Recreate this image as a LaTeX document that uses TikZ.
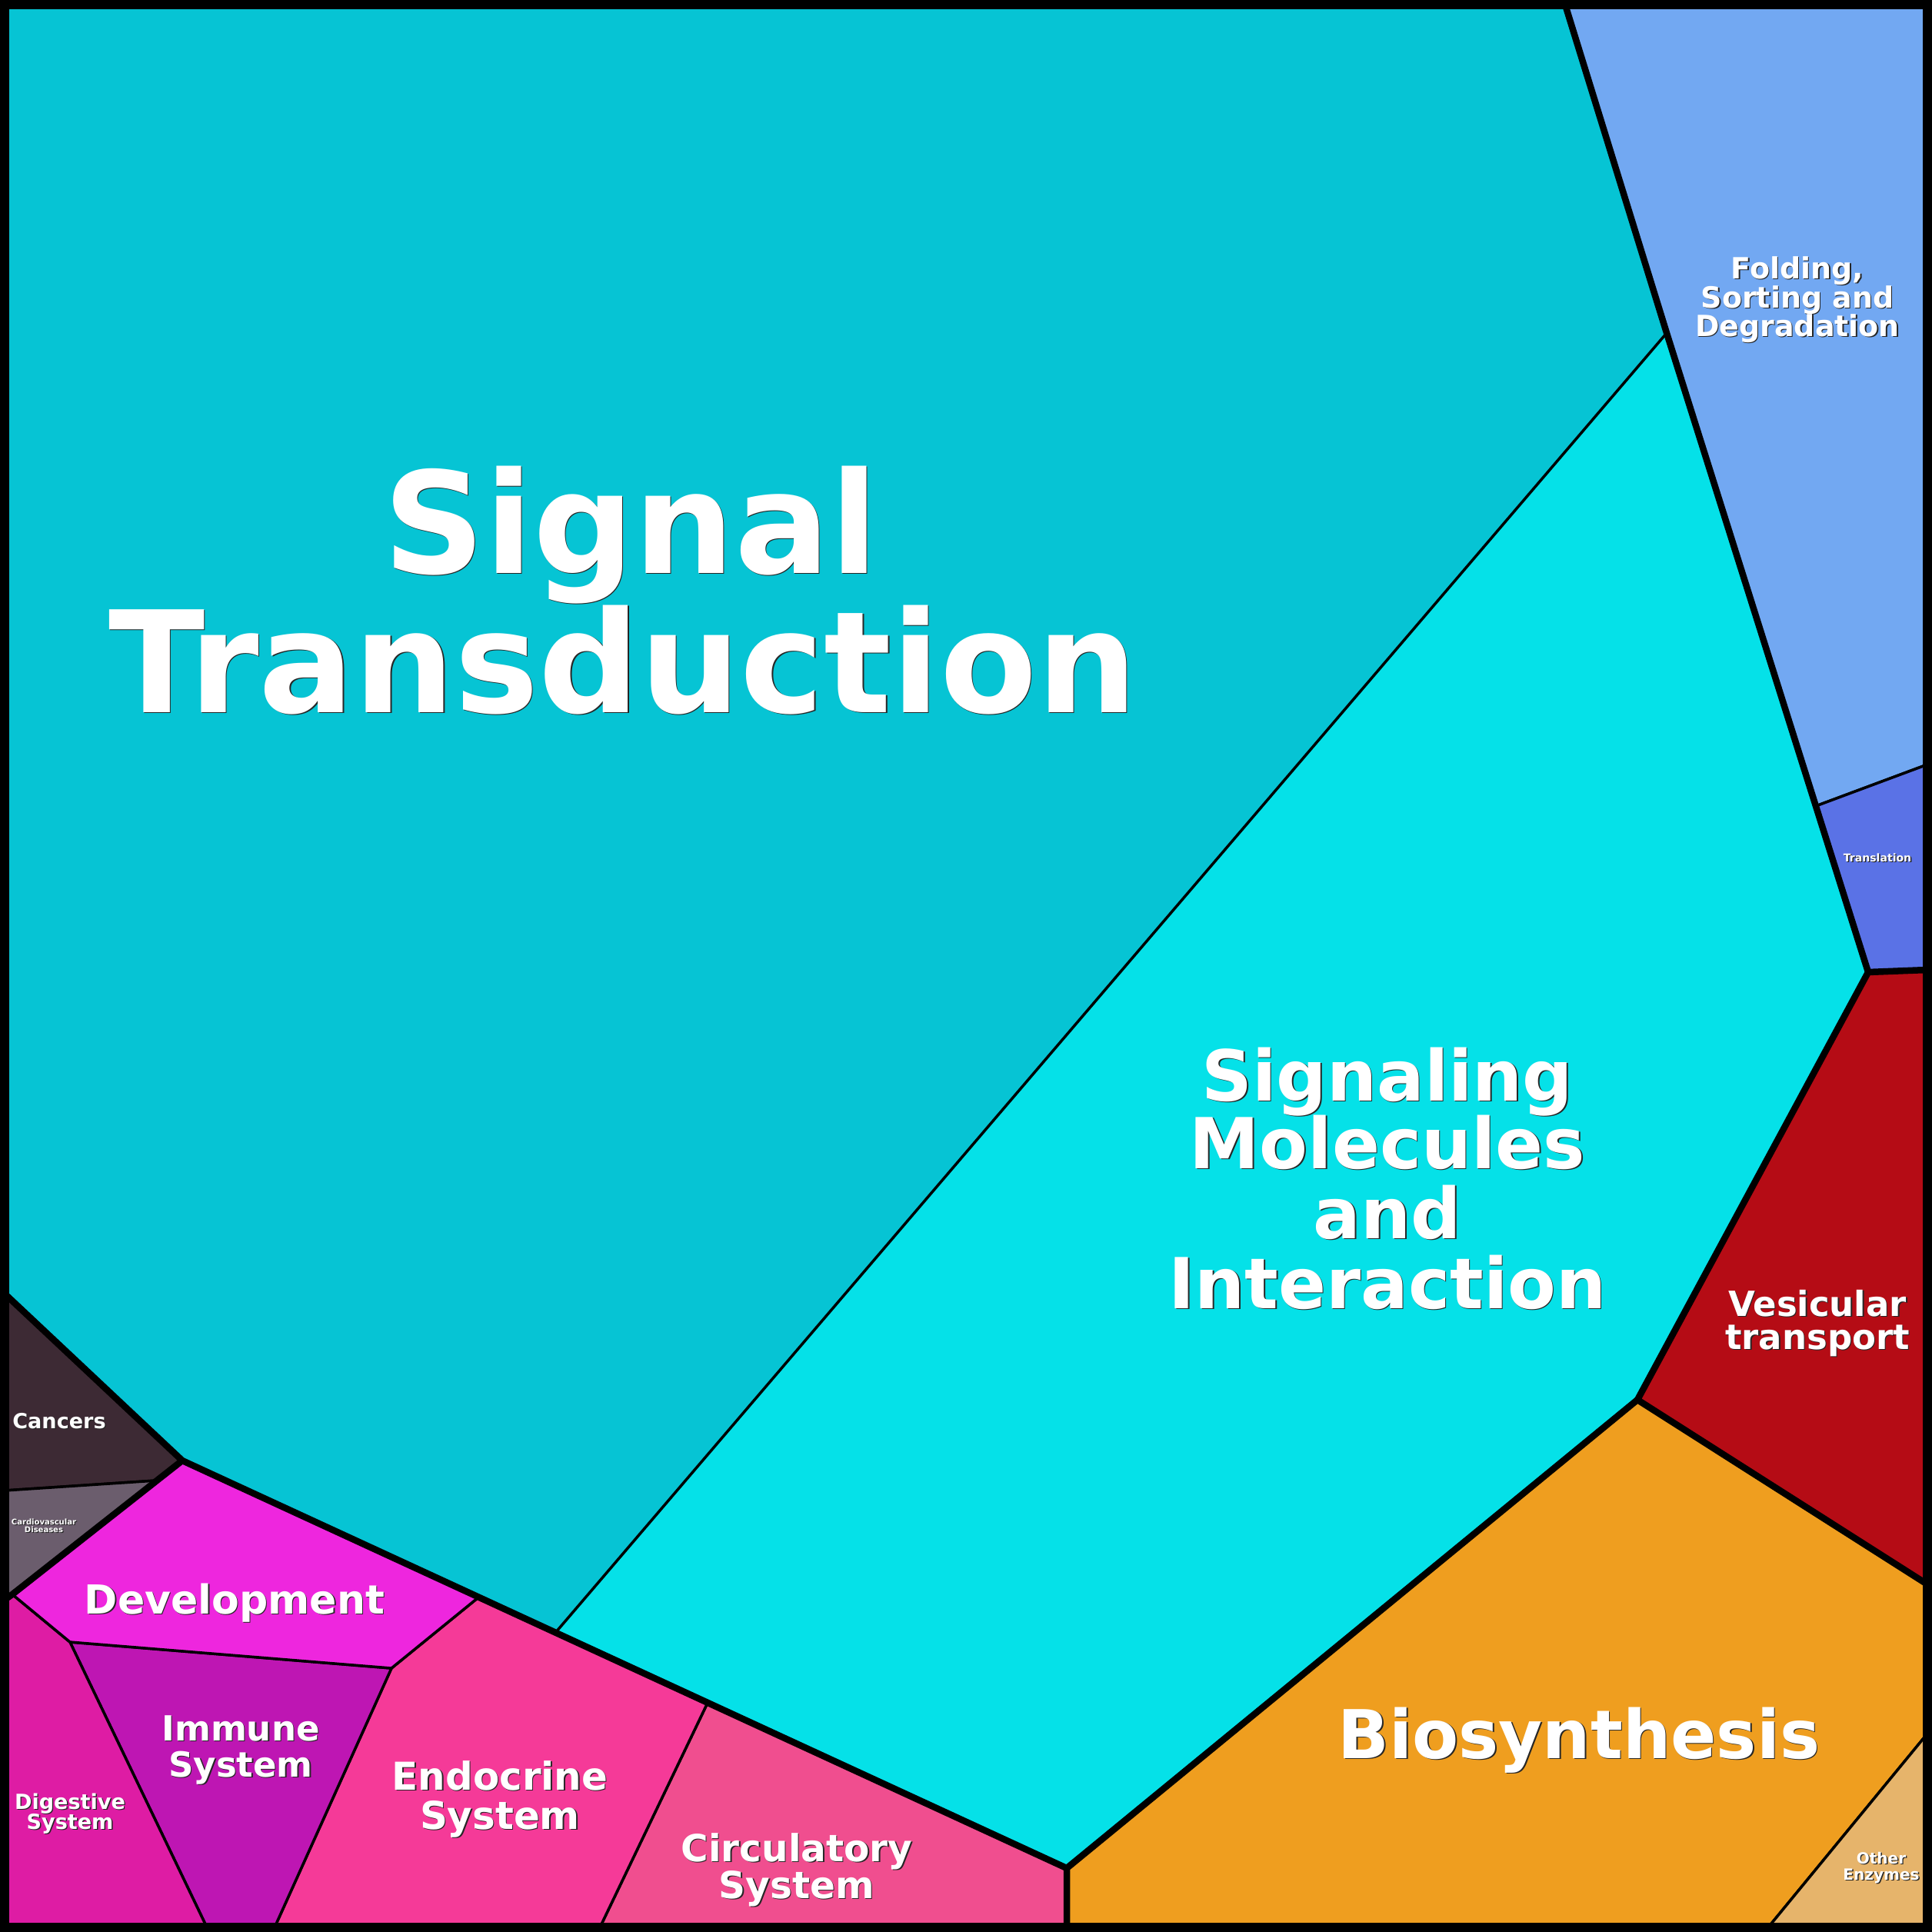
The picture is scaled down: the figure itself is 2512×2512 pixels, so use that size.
\documentclass[tikz,border=0pt]{standalone}
\usepackage{fontspec}
\setmainfont{DejaVu Sans}
\definecolor{stC}{HTML}{06C4D4}
\definecolor{smC}{HTML}{05E1E8}
\definecolor{foC}{HTML}{72A8F2}
\definecolor{trC}{HTML}{5A72E6}
\definecolor{veC}{HTML}{B50C15}
\definecolor{biC}{HTML}{EF9E1F}
\definecolor{oeC}{HTML}{E6B46B}
\definecolor{ciC}{HTML}{F04E8F}
\definecolor{enC}{HTML}{F53A98}
\definecolor{imC}{HTML}{BE16B3}
\definecolor{diC}{HTML}{DE1CA4}
\definecolor{deC}{HTML}{EE26DE}
\definecolor{caC}{HTML}{3D2A34}
\definecolor{cvC}{HTML}{6B5D6D}
\tikzset{
  cell/.style={draw=black, line width=0.035cm, line join=round},
  groupline/.style={draw=black, line width=0.085cm, line join=round},
  frameline/.style={draw=black, line width=0.12cm},
  lbl/.style={text=white, inner sep=0pt, anchor=base},
  shd/.style={text=black!85, inner sep=0pt, anchor=base, xshift=0.014cm, yshift=-0.014cm}
}
\newcommand{\lab}[4]{%
  \node[shd, font=\bfseries\fontsize{#3}{#3}\selectfont] at (#2) {#4};
  \node[lbl, font=\bfseries\fontsize{#3}{#3}\selectfont] (#1) at (#2) {#4};
}
\begin{document}
\begin{tikzpicture}[x=0.01cm, y=-0.01cm]
\useasboundingbox (0,0) rectangle (2512,2512);
% vertices
\coordinate (TL) at (6,6);
\coordinate (TR) at (2506,6);
\coordinate (BL) at (6,2506);
\coordinate (BR) at (2506,2506);
\coordinate (a) at (2035,6);
\coordinate (b) at (2167,433);
\coordinate (c) at (2361,1048);
\coordinate (d) at (2506,994);
\coordinate (e) at (2429,1264);
\coordinate (f) at (2506,1261);
\coordinate (g) at (2129,1820);
\coordinate (h) at (2506,2060);
\coordinate (i) at (2506,2254);
\coordinate (j) at (2299,2506);
\coordinate (k) at (1387,2429);
\coordinate (l) at (1387,2506);
\coordinate (m) at (722,2123);
\coordinate (n) at (920,2214);
\coordinate (o) at (780,2506);
\coordinate (p) at (622,2077);
\coordinate (q) at (509,2169);
\coordinate (r) at (357,2506);
\coordinate (s) at (91,2135);
\coordinate (t) at (269,2506);
\coordinate (u) at (16,2073);
\coordinate (u0) at (6,2080);
\coordinate (v) at (237,1899);
\coordinate (w) at (6,1682);
\coordinate (x1) at (203,1925);
\coordinate (x0) at (6,1938);
% cells
\fill[stC] (TL) -- (a) -- (b) -- (m) -- (v) -- (w) -- cycle;
\draw[cell, fill=smC] (b) -- (e) -- (g) -- (k) -- (m) -- cycle;
\draw[cell, fill=foC] (a) -- (TR) -- (d) -- (c) -- cycle;
\draw[cell, fill=trC] (c) -- (d) -- (f) -- (e) -- cycle;
\draw[cell, fill=veC] (e) -- (f) -- (h) -- (g) -- cycle;
\draw[cell, fill=biC] (g) -- (h) -- (i) -- (j) -- (l) -- (k) -- cycle;
\draw[cell, fill=oeC] (i) -- (BR) -- (j) -- cycle;
\draw[cell, fill=ciC] (n) -- (k) -- (l) -- (o) -- cycle;
\draw[cell, fill=enC] (p) -- (n) -- (o) -- (r) -- (q) -- cycle;
\draw[cell, fill=imC] (s) -- (q) -- (r) -- (t) -- cycle;
\draw[cell, fill=diC] (u0) -- (u) -- (s) -- (t) -- (BL) -- cycle;
\draw[cell, fill=deC] (u) -- (v) -- (p) -- (q) -- (s) -- cycle;
\draw[cell, fill=caC] (w) -- (v) -- (x1) -- (x0) -- cycle;
\draw[cell, fill=cvC] (x0) -- (x1) -- (u) -- (u0) -- cycle;
% group boundaries
\draw[groupline] (a) -- (b) -- (e) -- (f);
\draw[groupline] (e) -- (g) -- (h);
\draw[groupline] (g) -- (k) -- (l);
\draw[groupline] (k) -- (v) -- (w);
\draw[groupline] (v) -- (u) -- (u0);
% frame
\draw[frameline] (TL) rectangle (BR);
% labels
\lab{st1}{820,745}{52.2pt}{Signal}
\lab{st2}{810,926}{52.2pt}{Transduction}
\lab{sm1}{1804,1431}{26pt}{Signaling}
\lab{sm2}{1804,1519}{26pt}{Molecules}
\lab{sm3}{1804,1610}{26pt}{and}
\lab{sm4}{1804,1701}{26pt}{Interaction}
\lab{bi1}{2053,2286}{24.9pt}{Biosynthesis}
\lab{ve1}{2363,1711}{12.8pt}{Vesicular}
\lab{ve2}{2363,1754}{12.8pt}{transport}
\lab{fo1}{2337,362}{10.8pt}{Folding,}
\lab{fo2}{2337,400}{10.8pt}{Sorting and}
\lab{fo3}{2337,437}{10.8pt}{Degradation}
\lab{tr1}{2441,1120}{4pt}{Translation}
\lab{ca1}{77,1857}{7.7pt}{Cancers}
\lab{cv1}{57,1982}{2.85pt}{Cardiovascular}
\lab{cv2}{57,1992}{2.85pt}{Diseases}
\lab{de1}{305,2098}{14.8pt}{Development}
\lab{im1}{313,2263}{12.8pt}{Immune}
\lab{im2}{313,2310}{12.8pt}{System}
\lab{di1}{91,2352}{7.7pt}{Digestive}
\lab{di2}{91,2378}{7.7pt}{System}
\lab{en1}{650,2327}{14.2pt}{Endocrine}
\lab{en2}{650,2378}{14.2pt}{System}
\lab{ci1}{1036,2420}{13.8pt}{Circulatory}
\lab{ci2}{1036,2468}{13.8pt}{System}
\lab{oe1}{2446,2423}{5.7pt}{Other}
\lab{oe2}{2446,2444}{5.7pt}{Enzymes}
\end{tikzpicture}
\end{document}
